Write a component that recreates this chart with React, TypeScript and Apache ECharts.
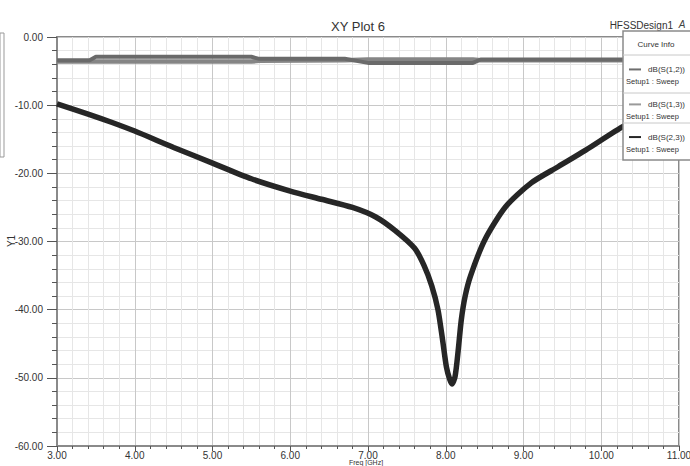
import React, { useEffect, useRef } from "react";
import * as echarts from "echarts";

const FONT = "'Liberation Sans Narrow', 'Liberation Sans', Arial, sans-serif";

// Frequency (GHz) and dB values for dB(S(2,3))
const freqS23 = [3.0, 3.4, 3.7, 4.0, 4.5, 5.0, 5.5, 6.0, 6.4, 6.8, 7.1, 7.35, 7.6, 7.72, 7.82, 7.9, 7.96, 8.01, 8.05, 8.08, 8.12, 8.16, 8.2, 8.25, 8.32, 8.5, 8.77, 9.1, 9.45, 9.8, 10.3, 10.7, 11.0];
const s23 = [-9.8, -11.3, -12.5, -13.8, -16.2, -18.5, -20.8, -22.6, -23.8, -25.0, -26.4, -28.4, -31.0, -33.5, -36.5, -40.0, -44.5, -48.5, -50.2, -50.9, -49.8, -46.0, -41.5, -38.0, -35.0, -29.8, -24.9, -21.4, -19.0, -16.6, -13.0, -11.0, -9.8];

// Frequency and dB values for dB(S(1,2)) and dB(S(1,3))
const freqGray = [3.0, 3.42, 3.5, 5.5, 5.6, 6.7, 7.0, 8.35, 8.45, 11.0];
const s12 = [-3.4, -3.4, -2.9, -2.9, -3.2, -3.2, -3.8, -3.8, -3.3, -3.3];
const s13 = [-3.6, -3.6, -3.6, -3.6, -3.5, -3.4, -3.3, -3.3, -3.4, -3.4];

const yTicks = [0, -10, -20, -30, -40, -50, -60];
const xTicks = [3, 4, 5, 6, 7, 8, 9, 10, 11];

const legendItems = [
  { name: "dB(S(1,2))", sub: "Setup1 : Sweep", color: "#6e6e6e" },
  { name: "dB(S(1,3))", sub: "Setup1 : Sweep", color: "#9a9a9a" },
  { name: "dB(S(2,3))", sub: "Setup1 : Sweep", color: "#262626" },
];

const zip = (xs: number[], ys: number[]) => xs.map((x, i) => [x, ys[i]]);

export default function App() {
  const ref = useRef<HTMLDivElement>(null);
  useEffect(() => {
    document.body.style.margin = "0";
    const chart = echarts.init(ref.current!, null, { renderer: "svg" });
    const legendGraphics: any[] = [];
    const lx = 623, ly = 31, lw = 70;
    const rowTops = [55, 93, 123];
    const rowBottoms = [93, 123, 160];
    legendGraphics.push({
      type: "rect",
      shape: { x: lx, y: ly, width: lw, height: 129 },
      style: { fill: "#fff", stroke: "#8a8a8a", lineWidth: 1.5 },
      z: 100,
    });
    legendGraphics.push({
      type: "text",
      x: lx + 33, y: 44,
      style: { text: "Curve Info", font: `8px ${FONT}`, fill: "#333", align: "center", verticalAlign: "middle" },
      z: 101,
    });
    legendItems.forEach((it, i) => {
      legendGraphics.push({
        type: "line",
        shape: { x1: lx, y1: rowTops[i], x2: lx + lw, y2: rowTops[i] },
        style: { stroke: "#c8c8c8", lineWidth: 1 },
        z: 101,
      });
      const mid = rowTops[i] + (rowBottoms[i] - rowTops[i]) * 0.38;
      legendGraphics.push({
        type: "line",
        shape: { x1: lx + 6, y1: mid, x2: lx + 18, y2: mid },
        style: { stroke: it.color, lineWidth: 2 },
        z: 101,
      });
      legendGraphics.push({
        type: "text",
        x: lx + 62, y: mid,
        style: { text: it.name, font: `8px ${FONT}`, fill: "#333", align: "right", verticalAlign: "middle" },
        z: 101,
      });
      legendGraphics.push({
        type: "text",
        x: lx + 3, y: mid + 12,
        style: { text: it.sub, font: `7.5px ${FONT}`, fill: "#333", align: "left", verticalAlign: "middle" },
        z: 101,
      });
    });

    chart.setOption({
      animation: false,
      backgroundColor: "#ffffff",
      title: {
        text: "XY Plot 6",
        left: 353,
        top: 15,
        textAlign: "center",
        textStyle: { fontFamily: FONT, fontSize: 13, fontWeight: "normal", color: "#333" },
      },
      grid: {
        left: 57, top: 37, right: 11, bottom: 20,
        containLabel: false,
        outerBoundsMode: "none",
        show: true, borderColor: "#8a8a8a", borderWidth: 2,
      },
      xAxis: {
        type: "value",
        min: 3, max: 11, interval: 1,
        axisLine: { show: true, onZero: false, lineStyle: { color: "#8a8a8a", width: 2 } },
        axisTick: { show: true, length: 5, lineStyle: { color: "#555" } },
        minorTick: { show: true, splitNumber: 5, length: 3, lineStyle: { color: "#555" } },
        axisLabel: {
          fontFamily: FONT, fontSize: 10, color: "#333", margin: 4,
          formatter: (v: number) => (xTicks.includes(v) ? v.toFixed(2) : ""),
        },
        splitLine: { show: true, lineStyle: { color: "#c8c8c8", width: 1 } },
        minorSplitLine: { show: true, lineStyle: { color: "#e6e6e6", width: 1 } },
      },
      yAxis: {
        type: "value",
        min: -60, max: 0, interval: 10,
        axisLine: { show: true, onZero: false, lineStyle: { color: "#8a8a8a", width: 2 } },
        axisTick: { show: true, length: 10, lineStyle: { color: "#555" } },
        minorTick: { show: true, splitNumber: 5, length: 5, lineStyle: { color: "#555" } },
        axisLabel: {
          fontFamily: FONT, fontSize: 10, color: "#333", margin: 14,
          formatter: (v: number) => (yTicks.includes(v) ? v.toFixed(2) : ""),
        },
        splitLine: { show: true, lineStyle: { color: "#c8c8c8", width: 1 } },
        minorSplitLine: { show: true, lineStyle: { color: "#e6e6e6", width: 1 } },
      },
      series: [
        {
          name: "dB(S(1,3))", type: "line", data: zip(freqGray, s13), showSymbol: false,
          lineStyle: { color: "#858585", width: 4.5 }, z: 2,
        },
        {
          name: "dB(S(1,2))", type: "line", data: zip(freqGray, s12), showSymbol: false,
          lineStyle: { color: "#6a6a6a", width: 4 }, z: 3,
        },
        {
          name: "dB(S(2,3))", type: "line", data: zip(freqS23, s23), showSymbol: false,
          smooth: 0.25,
          lineStyle: { color: "#262626", width: 5.5 }, z: 4,
        },
      ],
      graphic: [
        {
          type: "text", x: 673, y: 25,
          style: { text: "HFSSDesign1", font: `10px ${FONT}`, fill: "#333", align: "right", verticalAlign: "middle" },
        },
        {
          type: "text", x: 682, y: 24,
          style: { text: "A", font: `italic 10px ${FONT}`, fill: "#444", align: "center", verticalAlign: "middle" },
        },
        {
          type: "text", x: 11, y: 241, rotation: Math.PI / 2,
          style: { text: "Y1", font: `10px ${FONT}`, fill: "#333", align: "center", verticalAlign: "middle" },
        },
        {
          type: "text", x: 366, y: 466,
          style: { text: "Freq [GHz]", font: `7px ${FONT}`, fill: "#333", align: "center", verticalAlign: "bottom" },
        },
        {
          type: "rect", shape: { x: 0, y: 33, width: 4, height: 124 },
          style: { fill: "#fff", stroke: "#999", lineWidth: 1 },
        },
        ...legendGraphics,
      ],
    });
    return () => chart.dispose();
  }, []);
  return <div ref={ref} style={{ width: 690, height: 466 }} />;
}
